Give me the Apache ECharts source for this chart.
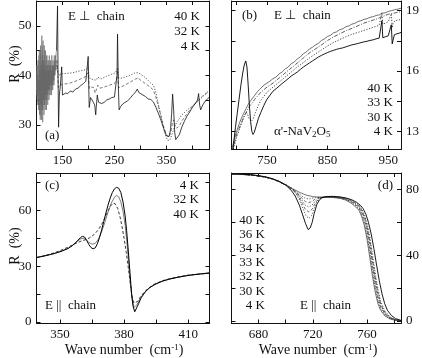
<!DOCTYPE html>
<html>
<head>
<meta charset="utf-8">
<script src="https://cdn.jsdelivr.net/npm/echarts@6/dist/echarts.min.js"></script>
<style>
html, body { margin: 0; padding: 0; background: #fff; }
#chart { width: 422px; height: 358px; }
</style>
</head>
<body>
<div id="chart"></div>
<script>
// ---- data (wave number cm-1, R %) ----

// (a) E perp chain, far infrared; the noisy part below 139 cm-1 is kept apart (drawn lighter)
var a4KNoise = [[100,38],[100.6,42],[101.2,35],[101.8,40],[102.4,36],[103,43],[103.6,34],[104.2,39],[104.8,33],[105.4,45],[106,32],[106.6,41],[107.2,31],[107.8,46],[108.4,34],[109,42],[109.6,31],[110.2,48],[110.8,33],[111.4,44],[112,30.5],[112.6,47],[113.2,35],[113.8,43],[114.4,32],[115,46],[115.6,34],[116.2,42],[116.8,33],[117.4,45],[118,35],[118.6,41],[119.2,33],[119.8,44],[120.4,36],[121,42],[121.6,34],[122.2,43],[122.8,37],[123.4,41],[124,35],[124.6,44],[125.2,37],[125.8,42],[126.4,36],[127,43],[127.6,38],[128.2,41],[128.8,36],[129.4,44],[130,38],[130.6,42],[131.2,37],[131.8,43],[132.4,39],[133,42],[133.6,38],[134.2,44],[134.8,40],[135.4,43],[136,41],[136.6,44],[137.2,42],[137.8,44.5],[138.6,45]];
var a4K = [[138.6,45],[139.6,50],[140.5,54],[141.5,40],[142.5,29.5],[144,36],[146,38],[148.5,41.7],[150,36],[152,36],[156,36.4],[160,36.3],[165,36.8],[170,36.6],[175,37.2],[180,37.4],[185,37.9],[190,38.3],[195,38.8],[198,39.2],[199.5,43.8],[200.5,38],[201.5,33.5],[204,35.5],[207,35],[210,34.8],[212,34],[214,32],[215,33.5],[217,36],[218.5,35],[220,34.5],[225,34.3],[230,34.5],[235,35],[240,35.2],[245,35.5],[250,35.6],[253,36],[255,40],[256,48.3],[257.5,38],[259,33],[262,33.7],[266,34.2],[270,34.5],[275,34.8],[280,35.3],[285,36],[290,36.5],[294,37.2],[297,36.5],[300,36.8],[305,36],[310,35.7],[315,35.2],[320,35.1],[325,34.6],[330,33.5],[335,32.2],[340,30.8],[345,29.2],[350,27.8],[355,27.6],[358,29],[360,32],[362,36.2],[364,33],[366,28.5],[368,27],[371,26.7],[375,28],[380,29.6],[385,30.8],[390,31.8],[395,32.6],[400,33.5],[405,34.2],[410,35],[412,36.3],[414,34],[416,33],[420,34],[425,34.8],[430,35.3],[433,35.6]];
var a32KNoise = [[100,37],[101,41],[102,34],[103,40],[104,33],[105,43],[106,35],[107,44],[108,32],[109,41],[110,34],[111,45],[112,33],[113,42],[114,35],[115,44],[116,34],[117,41],[118,36],[119,43],[120,35],[121,40],[122,37],[123,42],[124,36],[125,41],[126,37],[127,42],[128,38],[129,40],[130,37],[131,41],[132,38],[133,41],[134,39],[135,42],[136,40],[137,42],[138,41],[139,43]];
var a32K = [[139,43],[140,42.5],[141,40],[142,37.5],[144,37.2],[146,38],[150,38.2],[160,38.3],[170,38.6],[180,39],[190,39.5],[196,39.8],[199,40.5],[200.5,38.8],[202,37.3],[206,37.6],[210,37.5],[213,36.4],[215,36.8],[218,38],[222,37.4],[230,37.6],[240,38],[250,38.3],[254,39],[256,41],[258,37.5],[262,37.6],[270,38],[280,38.6],[290,39.2],[296,39.5],[300,39],[310,38.3],[320,37.5],[325,37],[330,35.5],[335,33.5],[340,31.6],[345,29.5],[350,28],[354,27.5],[358,28.2],[362,30.5],[364,31],[366,30],[370,29.3],[375,29.8],[380,30.8],[390,32.3],[400,33.6],[410,34.8],[420,35.8],[433,36.8]];
var a40KNoise = [[100,39],[101,36],[102,42],[103,37],[104,44],[105,34],[106,42],[107,36],[108,45],[109,33],[110,43],[111,37],[112,46],[113,34],[114,41],[115,37],[116,45],[117,36],[118,42],[119,38],[120,44],[121,37],[122,41],[123,39],[124,43],[125,38],[126,42],[127,39],[128,41],[129,38],[130,42],[131,39],[132,41],[133,40],[134,42],[135,40.5],[136,42],[137,41],[138,42]];
var a40K = [[138,42],[140,41.5],[142,40],[144,40.2],[150,40.3],[160,40.4],[170,40.5],[180,40.8],[190,41],[197,41.2],[199,41.7],[201,40],[203,39.3],[210,39.1],[215,39],[218,39.6],[225,39.3],[235,39.8],[245,40.2],[252,40.5],[256,41.5],[258,39.5],[262,39.4],[270,39.6],[280,40],[290,40.5],[296,40.5],[302,40.1],[310,39.5],[318,38.6],[325,38],[330,36.4],[336,33.5],[342,30.5],[347,28.3],[352,26.9],[356,26.8],[360,27.8],[365,29.4],[370,30.5],[380,32],[390,33],[400,33.8],[410,34.7],[420,35.7],[433,37]];

// (b) E perp chain, 700-970
var b40K = [[692,12.1],[696,12.6],[700,13.0],[705,13.45],[710,13.8],[715,14.1],[720,14.4],[725,14.6],[730,14.8],[735,15.0],[740,15.15],[745,15.3],[750,15.4],[755,15.5],[760,15.62],[765,15.7],[770,15.86],[775,15.95],[780,16.1],[785,16.2],[790,16.36],[795,16.45],[800,16.6],[805,16.7],[810,16.86],[815,16.95],[820,17.1],[825,17.18],[830,17.3],[835,17.38],[840,17.52],[845,17.6],[850,17.72],[855,17.78],[860,17.9],[865,17.95],[870,18.06],[875,18.1],[880,18.2],[885,18.24],[890,18.33],[895,18.37],[900,18.46],[905,18.5],[910,18.57],[915,18.6],[920,18.67],[925,18.7],[930,18.76],[935,18.79],[940,18.87],[945,18.89],[950,18.96],[955,19.0],[960,19.04],[965,19.07],[971,19.12]];
var b33K = [[692,11.95],[700,12.85],[710,13.6],[720,14.2],[730,14.6],[740,14.95],[750,15.2],[760,15.4],[770,15.65],[780,15.9],[790,16.15],[800,16.4],[810,16.65],[820,16.9],[830,17.1],[840,17.3],[850,17.52],[860,17.7],[870,17.85],[880,18.0],[890,18.12],[900,18.25],[910,18.38],[920,18.48],[930,18.58],[940,18.7],[950,18.82],[960,18.88],[971,18.95]];
var b30K = [[692,11.85],[700,12.7],[708,13.4],[713,13.8],[716,13.95],[718,13.85],[721,13.6],[724,13.5],[727,13.6],[731,13.95],[736,14.3],[740,14.55],[750,14.95],[760,15.2],[770,15.45],[780,15.7],[790,15.95],[800,16.2],[810,16.42],[820,16.65],[830,16.85],[840,17.05],[850,17.25],[860,17.42],[870,17.57],[880,17.7],[890,17.82],[900,17.92],[910,18.02],[920,18.12],[930,18.22],[935,18.27],[938,18.3],[939.5,18.9],[941,18.33],[945,18.38],[950,18.45],[953,18.48],[955,18.85],[956.5,18.15],[958,18.4],[962,18.5],[966,18.53],[971,18.56]];
var b4K = [[692,11.6],[695,12.4],[698,13.2],[701,13.9],[704,14.6],[707,15.3],[710,15.9],[712.5,16.3],[715,16.5],[717,16.2],[719,15.3],[721,14.3],[723,13.5],[725,13.0],[727,12.85],[729,12.95],[732,13.25],[736,13.65],[740,13.95],[745,14.3],[750,14.6],[755,14.8],[760,15.0],[765,15.12],[770,15.25],[775,15.38],[780,15.5],[785,15.62],[790,15.75],[795,15.85],[800,15.95],[805,16.08],[810,16.2],[815,16.3],[820,16.4],[825,16.5],[830,16.6],[835,16.7],[840,16.78],[845,16.85],[850,16.92],[855,16.98],[860,17.03],[865,17.08],[870,17.12],[875,17.15],[880,17.2],[885,17.25],[890,17.3],[895,17.33],[900,17.37],[905,17.41],[910,17.45],[915,17.48],[920,17.52],[925,17.55],[930,17.6],[935,17.63],[937.5,17.7],[939.5,18.5],[941,17.65],[945,17.7],[950,17.75],[953,17.78],[955,18.3],[956.5,17.35],[958,17.3],[960,17.8],[964,17.85],[968,17.88],[971,17.92]];

// (c) E || chain, 340-420
var c4K = [[339,34.6],[342,35.3],[345,36.1],[348,37.0],[351,38.1],[354,39.6],[356,41.2],[358,43.4],[359.5,45.2],[360.5,46.0],[361.5,45.6],[362.5,43.8],[363.5,41.6],[364.5,40.0],[365.5,39.3],[366.5,39.8],[367.5,42.0],[368.5,45.3],[369.5,49.5],[370.5,54.0],[371.5,58.5],[372.5,62.8],[373.5,66.5],[374.5,69.5],[375.5,71.5],[376.5,72.3],[377.5,71.8],[378.5,69.5],[379.5,64.5],[380.5,57],[381.2,49],[382,38],[382.8,26],[383.5,15.5],[384.2,8.5],[385,5.5],[385.8,6.5],[386.8,9.8],[388,13],[390,16.3],[392,18.5],[395,20.5],[398,21.9],[401,23],[405,24],[410,25],[415,25.7],[420,26.3]];
var c32K = [[339,34.6],[342,35.3],[345,36.1],[348,37.0],[351,38.2],[354,39.7],[356,41.3],[358,43.2],[359.5,44.5],[360.8,45.0],[362,44.4],[363.5,42.8],[365,41.8],[366.5,42.2],[368,44.5],[369.5,48.5],[371,53.5],[372.5,59],[374,63.8],[375.5,67],[376.5,67.9],[377.5,67.2],[378.5,64.5],[379.5,59.5],[380.5,52],[381.3,43],[382.2,31],[383,20],[383.8,12],[384.6,7.8],[385.4,7.5],[386.2,9.5],[387.5,12.5],[389,15],[391,17.5],[394,20],[398,22],[402,23.2],[406,24.2],[410,25],[415,25.8],[420,26.4]];
var c40K = [[339,34.6],[342,35.4],[345,36.3],[348,37.4],[351,38.8],[354,40.3],[357,42.0],[360,43.5],[362,44.2],[364,45.3],[366,47.0],[368,49.5],[370,53.5],[372,58.5],[373.5,62],[374.8,63.8],[375.8,63.5],[377,61],[378,57],[379,51.5],[380,45],[381,37.5],[382,29],[383,20],[383.8,13.5],[384.6,10.2],[385.4,9.8],[386.3,11],[387.5,13.2],[389,15.5],[391,17.8],[394,20.2],[398,22.2],[402,23.4],[406,24.3],[410,25.2],[415,25.7],[420,26.2]];

// (d) E || chain, 660-785
var d40K = [[660,89.4],[665,89.3],[670,89.0],[675,88.7],[680,88.2],[685,87.5],[690,86.4],[695,84.8],[700,82.8],[705,80.5],[710,78.3],[715,76.6],[720,75.6],[725,75.2],[730,75.2],[735,75.1],[740,74.6],[744,73.6],[748,71.8],[751,69.8],[754,67.4],[756,63.5],[758,58],[760,49.5],[762,38.5],[764,27],[766,17.5],[768,10.5],[770,6.5],[773,3.2],[777,1.2],[781,0.4],[785,0.1]];
var d36K = [[660,89.4],[665,89.3],[670,89.0],[675,88.7],[680,88.2],[685,87.5],[690,86.4],[695,84.8],[700,82.8],[705,80.4],[709,77.9],[712,75.9],[714.5,74.6],[717,74.2],[719.5,74.6],[722,75.3],[725,75.4],[730,75.3],[735,75.2],[740,74.8],[744,73.9],[748,72.3],[751,70.5],[754,68.3],[756,64.7],[758,59.8],[760,52],[762,41.5],[764,30],[766,20],[768,12.3],[770,7.5],[773,3.8],[777,1.5],[781,0.5],[785,0.1]];
var d34K = [[660,89.4],[665,89.3],[670,89.0],[675,88.7],[680,88.2],[685,87.5],[690,86.4],[695,84.8],[700,82.8],[705,80.3],[709,77.3],[712,74.6],[714.5,72.6],[717,72],[719.5,72.8],[722,74.4],[725,75.3],[730,75.4],[735,75.3],[740,74.9],[744,74.1],[748,72.7],[751,71],[754,69],[756,65.8],[758,61.5],[760,54.5],[762,44.5],[764,33],[766,22.5],[768,14.3],[770,8.6],[773,4.4],[777,1.7],[781,0.6],[785,0.1]];
var d33K = [[660,89.4],[665,89.3],[670,89.0],[675,88.7],[680,88.2],[685,87.5],[690,86.4],[695,84.8],[700,82.8],[705,80.2],[709,76.8],[712,73.3],[714.5,70.4],[717,69.3],[719.5,70.6],[722,73.2],[725,75],[730,75.5],[735,75.4],[740,75],[744,74.3],[748,73],[751,71.4],[754,69.5],[756,66.6],[758,62.6],[760,56.3],[762,46.8],[764,35.5],[766,24.5],[768,15.8],[770,9.6],[773,4.9],[777,1.9],[781,0.7],[785,0.2]];
var d32K = [[660,89.4],[665,89.3],[670,89.0],[675,88.7],[680,88.2],[685,87.5],[690,86.4],[695,84.8],[700,82.8],[705,80.1],[709,76.2],[712,71.8],[714.5,67.8],[717,66.3],[719.5,68],[722,72],[725,74.7],[730,75.6],[735,75.5],[740,75.1],[744,74.5],[748,73.3],[751,71.8],[754,70],[756,67.4],[758,63.7],[760,58],[762,49],[764,38],[766,26.8],[768,17.5],[770,10.7],[773,5.5],[777,2.1],[781,0.8],[785,0.2]];
var d30K = [[660,89.4],[665,89.3],[670,89.0],[675,88.7],[680,88.2],[685,87.5],[690,86.4],[695,84.8],[700,82.7],[704,80.4],[707,78],[710,74],[712.5,68.8],[715,64],[717,62.4],[719,64],[721,68.5],[723,72.5],[726,75],[730,75.7],[735,75.6],[740,75.2],[744,74.7],[748,73.6],[751,72.2],[754,70.5],[756,68.1],[758,64.7],[760,59.5],[762,51.2],[764,40.5],[766,29.2],[768,19.5],[770,12],[773,6.2],[777,2.4],[781,0.9],[785,0.2]];
var d4K = [[660,89.5],[665,89.4],[670,89.2],[675,88.9],[680,88.4],[685,87.7],[690,86.6],[695,85.0],[700,82.6],[704,79.5],[707,76],[710,70.5],[712.5,64.5],[714.5,59.5],[716.5,55.6],[718,56.5],[719.5,60],[721,65.5],[723,71],[725,73.8],[727,75],[730,75.7],[735,75.8],[740,75.5],[745,74.7],[749,73.6],[752,72.3],[755,70.4],[757,68.4],[759,65.2],[761,60],[763,53],[765,44],[767,34],[769,24.5],[771,16.5],[773,10.5],[775,6.5],[778,3.3],[781,1.5],[785,0.4]];

// ticks and tick labels
var aTickX = [150, 200, 250, 300, 350, 400], aLabelX = [150, 250, 350];
var aTickY = [30, 35, 40, 45, 50], aLabelY = [30, 40, 50];
var bTickX = [700, 750, 800, 850, 900, 950], bLabelX = [750, 850, 950];
var bTickY = [13, 14.5, 16, 17.5, 19], bLabelY = [13, 16, 19];
var cTickX = [350, 365, 380, 395, 410], cLabelX = [350, 380, 410];
var cTickY = [0, 15, 30, 45, 60, 75], cLabelY = [0, 30, 60];
var dTickX = [680, 700, 720, 740, 760, 780], dLabelX = [680, 720, 760];
var dTickY = [0, 20, 40, 60, 80], dLabelY = [0, 40, 80];

var FONT = 'Liberation Serif';
var INK = '#111';
var FS = 13;

var panels = [
  { left: 36.5, top: 1, width: 173, height: 148.5, xr: [100, 433], yr: [25, 55], xt: aTickX, xl: aLabelX, yt: aTickY, yl: aLabelY, ySide: 'left' },
  { left: 231.5, top: 1, width: 171, height: 148.5, xr: [691.5, 971], yr: [12.1, 19.48], xt: bTickX, xl: bLabelX, yt: bTickY, yl: bLabelY, ySide: 'right' },
  { left: 36.5, top: 173, width: 173, height: 150.5, xr: [339, 420], yr: [-0.8, 80], xt: cTickX, xl: cLabelX, yt: cTickY, yl: cLabelY, ySide: 'left' },
  { left: 231.5, top: 173, width: 171, height: 150.5, xr: [660, 785], yr: [-1.5, 90], xt: dTickX, xl: dLabelX, yt: dTickY, yl: dLabelY, ySide: 'right' }
];

var grid = [], xAxis = [], yAxis = [];
panels.forEach(function (p, i) {
  grid.push({ left: p.left, top: p.top, width: p.width, height: p.height });
  ['bottom', 'top'].forEach(function (pos) {
    xAxis.push({
      type: 'value', gridIndex: i, position: pos, min: p.xr[0], max: p.xr[1],
      axisLine: { onZero: false, lineStyle: { color: INK, width: 1 } },
      axisTick: { inside: true, length: 4, customValues: p.xt, lineStyle: { color: INK } },
      axisLabel: { show: pos === 'bottom', customValues: p.xl, margin: 5, color: INK, fontSize: FS, fontFamily: FONT },
      splitLine: { show: false }
    });
  });
  ['left', 'right'].forEach(function (pos) {
    yAxis.push({
      type: 'value', gridIndex: i, position: pos, min: p.yr[0], max: p.yr[1],
      axisLine: { onZero: false, lineStyle: { color: INK, width: 1 } },
      axisTick: { inside: true, length: 4, customValues: p.yt, lineStyle: { color: INK } },
      axisLabel: { show: pos === p.ySide, customValues: p.yl, margin: 5, color: INK, fontSize: FS, fontFamily: FONT },
      splitLine: { show: false }
    });
  });
});

function line(data, gi, dash, width, color) {
  return {
    type: 'line', xAxisIndex: gi * 2, yAxisIndex: gi * 2, data: data,
    showSymbol: false, symbol: 'none', silent: true, animation: false,
    lineStyle: { color: color || '#000', width: width || 0.9, type: dash || 'solid' }
  };
}

var DOT = [1.2, 1.6], DASH = [3, 2], DASHDOT = [4, 1.5, 1, 1.5];

var series = [
  line(a40KNoise, 0, 'solid', 0.5, '#999'),
  line(a32KNoise, 0, 'solid', 0.5, '#888'),
  line(a4KNoise, 0, 'solid', 0.6, '#666'),
  line(a40K, 0, DOT, 0.8, '#333'),
  line(a32K, 0, DASH, 0.7, '#444'),
  line(a4K, 0, 'solid', 0.8, '#111'),

  line(b40K, 1, 'solid', 0.7, '#333'),
  line(b33K, 1, DASHDOT, 0.8, '#333'),
  line(b30K, 1, DOT, 0.9, '#333'),
  line(b4K, 1, 'solid', 0.9, '#000'),

  line(c40K, 2, DASH, 0.9, '#222'),
  line(c32K, 2, 'solid', 0.7, '#444'),
  line(c4K, 2, 'solid', 1.0, '#000'),

  line(d40K, 3, 'solid', 0.7, '#333'),
  line(d36K, 3, DOT, 0.8, '#333'),
  line(d34K, 3, DASH, 0.7, '#333'),
  line(d33K, 3, DOT, 0.8, '#333'),
  line(d32K, 3, DASH, 0.7, '#333'),
  line(d30K, 3, DOT, 0.8, '#333'),
  line(d4K, 3, 'solid', 0.9, '#000')
];

function txt(x, y, s, align) {
  return { type: 'text', x: x, y: y, silent: true,
    style: { text: s, fill: INK, fontSize: FS, fontFamily: FONT, align: align || 'left', verticalAlign: 'middle' } };
}

var PERP = 'E \u22A5  chain', PAR = 'E ||  chain';

var graphic = [
  // (a)
  txt(68, 17, PERP),
  txt(200, 17, '40 K', 'right'),
  txt(200, 32, '32 K', 'right'),
  txt(200, 47, '4 K', 'right'),
  txt(45, 136, '(a)'),
  // (b)
  txt(242, 16, '(b)'),
  txt(274, 16, PERP),
  txt(393, 89, '40 K', 'right'),
  txt(393, 103, '33 K', 'right'),
  txt(393, 118, '30 K', 'right'),
  txt(393, 132, '4 K', 'right'),
  { type: 'text', x: 274, y: 132, silent: true,
    style: { text: "{n|\u03B1'-NaV}{s|2}{n|O}{s|5}", fill: INK, verticalAlign: 'middle',
      rich: { n: { fontSize: FS, fontFamily: FONT, lineHeight: 15, verticalAlign: 'middle' },
              s: { fontSize: 9, fontFamily: FONT, lineHeight: 15, verticalAlign: 'bottom' } } } },
  // (c)
  txt(45, 186, '(c)'),
  txt(199, 186, '4 K', 'right'),
  txt(199, 200, '32 K', 'right'),
  txt(199, 215, '40 K', 'right'),
  txt(45, 306, PAR),
  // (d)
  txt(393, 186, '(d)', 'right'),
  txt(265, 221, '40 K', 'right'),
  txt(265, 235, '36 K', 'right'),
  txt(265, 249, '34 K', 'right'),
  txt(265, 263, '33 K', 'right'),
  txt(265, 277, '32 K', 'right'),
  txt(265, 292, '30 K', 'right'),
  txt(265, 306, '4 K', 'right'),
  txt(300, 306, PAR),
  // axis titles
  { type: 'text', x: 15, y: 64, rotation: Math.PI / 2, silent: true,
    style: { text: 'R  (%)', fill: INK, fontSize: 14, fontFamily: FONT, align: 'center', verticalAlign: 'middle' } },
  { type: 'text', x: 15, y: 246, rotation: Math.PI / 2, silent: true,
    style: { text: 'R  (%)', fill: INK, fontSize: 14, fontFamily: FONT, align: 'center', verticalAlign: 'middle' } }
];

[124, 318].forEach(function (cx) {
  graphic.push({ type: 'text', x: cx, y: 350, silent: true,
    style: { text: '{t|Wave number  (cm}{u|-1}{t|)}', fill: INK, align: 'center', verticalAlign: 'middle',
      rich: { t: { fontSize: 14, fontFamily: FONT, lineHeight: 14, verticalAlign: 'middle' },
              u: { fontSize: 9, fontFamily: FONT, lineHeight: 14, verticalAlign: 'top' } } } });
});

var chart = echarts.init(document.getElementById('chart'));
chart.setOption({
  animation: false,
  backgroundColor: '#fff',
  grid: grid,
  xAxis: xAxis,
  yAxis: yAxis,
  series: series,
  graphic: graphic
});
</script>
</body>
</html>
